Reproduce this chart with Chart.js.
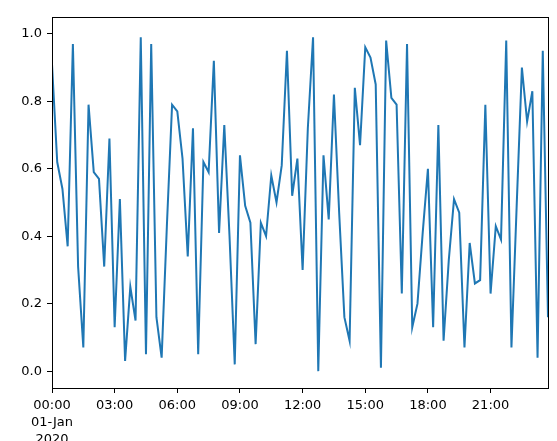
<!DOCTYPE html>
<html>
<head>
<meta charset="utf-8">
<script src="https://cdn.jsdelivr.net/npm/chart.js@4"></script>
<style>
  html, body { margin: 0; padding: 0; background: #fff; }
  #wrap { width: 557px; height: 441px; }
</style>
</head>
<body>
<div id="wrap"><canvas id="lineChart" width="557" height="441"></canvas></div>
<script>
// 每 15 分鐘一筆 (2020-01-01 00:00 ~ 23:45)
const stepMinutes = 15;
const values = [
  0.91, 0.62, 0.54, 0.37, 0.97, 0.31, 0.07, 0.79, 0.59, 0.57, 0.31, 0.69,
  0.13, 0.51, 0.03, 0.25, 0.15, 0.99, 0.05, 0.97, 0.16, 0.04, 0.43, 0.79,
  0.77, 0.63, 0.34, 0.72, 0.05, 0.62, 0.59, 0.92, 0.41, 0.73, 0.40, 0.02,
  0.64, 0.49, 0.44, 0.08, 0.44, 0.40, 0.58, 0.50, 0.61, 0.95, 0.52, 0.63,
  0.30, 0.72, 0.99, 0.00, 0.64, 0.45, 0.82, 0.47, 0.16, 0.09, 0.84, 0.67,
  0.96, 0.93, 0.85, 0.01, 0.98, 0.81, 0.79, 0.23, 0.97, 0.13, 0.20, 0.41,
  0.60, 0.13, 0.73, 0.09, 0.33, 0.51, 0.47, 0.07, 0.38, 0.26, 0.27, 0.79,
  0.23, 0.43, 0.39, 0.98, 0.07, 0.49, 0.90, 0.74, 0.83, 0.04, 0.95, 0.16
];

// x 軸刻度 (分鐘) 與標籤
const xTickMinutes = [0, 180, 360, 540, 720, 900, 1080, 1260];
const xTickLabels = [['00:00', '01-Jan', '2020'], '03:00', '06:00', '09:00', '12:00', '15:00', '18:00', '21:00'];
const yTicks = [0.0, 0.2, 0.4, 0.6, 0.8, 1.0];

const points = values.map((v, i) => ({ x: i * stepMinutes, y: v }));

// 外框 (matplotlib 風格)
const frame = {
  id: 'frame',
  afterDraw(chart) {
    const { ctx, chartArea: a } = chart;
    ctx.save();
    ctx.strokeStyle = '#000';
    ctx.lineWidth = 1;
    ctx.strokeRect(Math.round(a.left) + 0.5, Math.round(a.top) + 0.5,
      Math.round(a.right - a.left), Math.round(a.bottom - a.top));
    ctx.restore();
  }
};

const tickFont = { family: 'DejaVu Sans', size: 13, lineHeight: 1.3 };

new Chart(document.getElementById('lineChart').getContext('2d'), {
  type: 'line',
  data: {
    datasets: [{
      data: points,
      borderColor: '#1f77b4',
      borderWidth: 2,
      pointRadius: 0,
      tension: 0,
      fill: false
    }]
  },
  options: {
    responsive: false,
    animation: false,
    events: [],
    layout: { padding: { left: 0, top: 17, right: 9, bottom: 0 } },
    plugins: { legend: { display: false }, tooltip: { enabled: false } },
    scales: {
      x: {
        type: 'linear',
        min: 0,
        max: (values.length - 1) * stepMinutes,
        afterBuildTicks: (axis) => { axis.ticks = xTickMinutes.map(v => ({ value: v })); },
        afterFit: (scale) => { scale.height = 53; },
        grid: { drawOnChartArea: false, color: '#000', tickLength: 5, tickWidth: 1 },
        border: { display: false },
        ticks: {
          color: '#000',
          font: tickFont,
          padding: 4,
          maxRotation: 0,
          autoSkip: false,
          callback: (v) => xTickLabels[xTickMinutes.indexOf(v)]
        }
      },
      y: {
        min: -0.05,
        max: 1.05,
        afterBuildTicks: (axis) => { axis.ticks = yTicks.map(v => ({ value: v })); },
        afterFit: (scale) => { scale.width = 52; },
        grid: { drawOnChartArea: false, color: '#000', tickLength: 5, tickWidth: 1 },
        border: { display: false },
        ticks: {
          color: '#000',
          font: tickFont,
          padding: 5,
          autoSkip: false,
          callback: (v) => v.toFixed(1)
        }
      }
    }
  },
  plugins: [frame]
});
</script>
</body>
</html>
